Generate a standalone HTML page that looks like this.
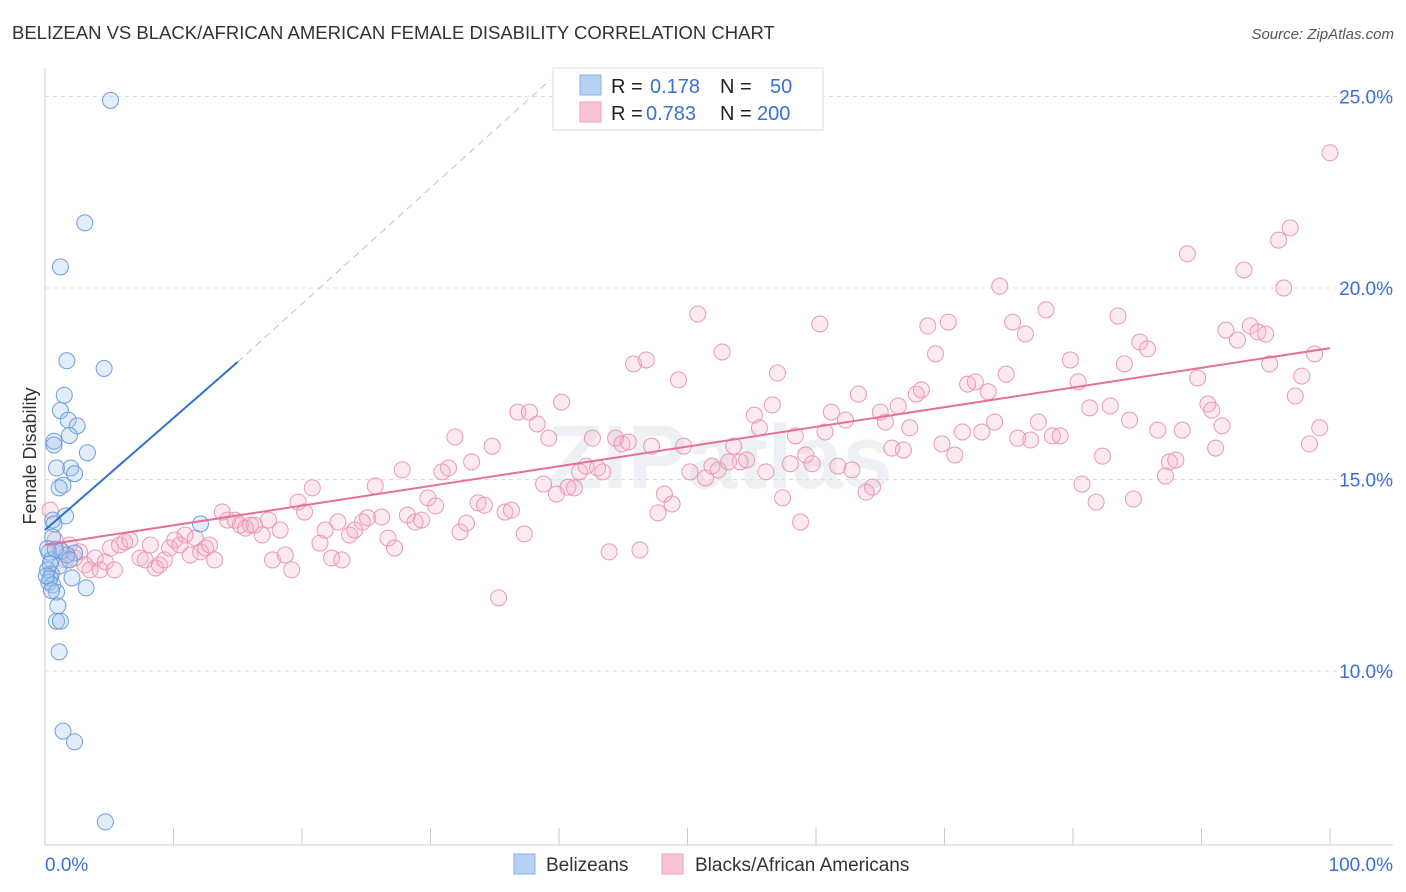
<!DOCTYPE html>
<html><head><meta charset="utf-8">
<style>
body{margin:0;background:#fff;font-family:"Liberation Sans",sans-serif;}
#wrap{position:relative;width:1406px;height:892px;overflow:hidden;}
svg{position:absolute;left:0;top:0;}
</style></head>
<body>
<div id="wrap">
<svg id="chart" width="1406" height="892">
<text x="12" y="39" font-size="18.5" fill="#333">BELIZEAN VS BLACK/AFRICAN AMERICAN FEMALE DISABILITY CORRELATION CHART</text>
<text x="1394" y="39" font-size="15" fill="#555" font-style="italic" text-anchor="end">Source: ZipAtlas.com</text>
<text x="36" y="456" font-size="18" fill="#333" text-anchor="middle" transform="rotate(-90 36 456)">Female Disability</text>
<text x="720" y="488" font-size="90" font-weight="bold" fill="#ccd6e4" opacity="0.35" text-anchor="middle">ZIPatlas</text>
<g id="grid"></g><g id="axes"></g><g id="pts"></g><g id="trend"></g>
<rect x="553" y="68" width="270" height="62" fill="#fff" stroke="#ddd"/>
<rect x="580" y="75" width="21" height="20" fill="#b5d0f5" stroke="#8ab0e8"/>
<rect x="580" y="102" width="21" height="20" fill="#f8c3d3" stroke="#eea0b8"/>
<text x="611" y="93" font-size="20" fill="#222">R = <tspan x="650" fill="#3a70d6">0.178</tspan><tspan x="720" fill="#222">N =</tspan><tspan x="770" fill="#3a70d6">50</tspan></text>
<text x="611" y="120" font-size="20" fill="#222">R = <tspan x="646" fill="#3a70d6">0.783</tspan><tspan x="720" fill="#222">N =</tspan><tspan x="757" fill="#3a70d6">200</tspan></text>
<rect x="514" y="854" width="21" height="20" fill="#b5d0f5" stroke="#8ab0e8"/>
<text x="546" y="871" font-size="19" fill="#333">Belizeans</text>
<rect x="662" y="854" width="21" height="20" fill="#f8c3d3" stroke="#eea0b8"/>
<text x="695" y="871" font-size="19" fill="#333">Blacks/African Americans</text>
</svg>
</div>
<script>
const yTicks=[10,15,20,25];
const yTickLabels=["10.0%","15.0%","20.0%","25.0%"];
const xTickLabels=["0.0%","100.0%"];
const blueX=[5.1,3.1,1.2,1.7,4.6,1.5,1.2,1.8,2.5,1.9,0.7,0.7,3.3,0.9,2.0,2.3,1.4,1.1,1.6,0.6,0.7,0.6,12.1,0.3,1.3,2.3,0.5,1.1,0.2,0.5,0.4,2.1,0.3,0.6,3.2,0.9,1.0,0.9,1.2,1.1,1.4,2.3,4.7,0.4,0.2,1.7,0.8,0.5,0.1,1.9];
const blueY=[24.9,21.7,20.55,18.1,17.9,17.2,16.8,16.55,16.4,16.15,16.0,15.9,15.7,15.3,15.3,15.15,14.85,14.78,14.05,13.94,13.84,13.5,13.84,13.1,13.13,13.08,12.9,12.74,12.64,12.53,12.43,12.43,12.32,12.25,12.17,12.06,11.7,11.3,11.3,10.5,8.43,8.15,6.06,12.8,13.2,13.03,13.18,12.1,12.48,12.9];
const pinkX=[0.4,0.8,1.2,1.6,1.9,2.3,2.7,3.1,3.5,3.9,4.3,4.7,5.1,5.4,5.8,6.2,6.6,7.4,7.8,8.2,8.6,8.9,9.3,9.7,10.1,10.5,10.9,11.3,11.7,12.1,12.5,12.8,13.2,13.8,14.2,14.8,15.2,15.6,16.0,16.3,16.9,17.4,17.7,18.3,18.7,19.2,19.7,20.2,20.8,21.4,21.8,22.3,22.8,23.1,23.7,24.1,24.7,25.1,25.7,26.2,26.7,27.2,27.8,28.2,28.8,29.3,29.8,30.4,30.9,31.4,31.9,32.3,32.8,33.2,33.7,34.2,34.8,35.3,35.8,36.3,36.8,37.3,37.7,38.3,38.8,39.2,39.8,40.2,40.7,41.2,41.6,42.1,42.6,43.0,43.4,43.9,44.4,44.9,45.4,45.8,46.3,46.8,47.2,47.7,48.2,48.8,49.3,49.7,50.2,50.8,51.4,51.9,52.4,52.7,53.2,53.6,54.1,54.6,55.2,55.6,56.1,56.6,57.0,57.4,58.0,58.4,58.8,59.2,59.7,60.3,60.7,61.2,61.7,62.3,62.8,63.3,63.9,64.4,65.0,65.4,65.9,66.4,66.8,67.3,67.8,68.2,68.7,69.3,69.8,70.3,70.8,71.4,71.8,72.4,72.9,73.4,73.9,74.3,74.8,75.3,75.7,76.3,76.7,77.3,77.9,78.4,79.0,79.8,80.4,80.7,81.3,81.8,82.3,82.9,83.5,84.0,84.4,84.7,85.2,85.8,86.6,87.2,87.5,88.0,88.5,88.9,89.7,90.5,90.8,91.1,91.6,91.9,92.8,93.3,93.8,94.4,95.0,95.3,96.0,96.4,96.9,97.3,97.8,98.4,98.8,99.2,100.0];
const pinkY=[14.2,13.42,13.16,12.9,13.29,12.95,13.11,12.77,12.64,12.95,12.64,12.85,13.21,12.64,13.29,13.37,13.42,12.95,12.9,13.29,12.69,12.77,12.9,13.21,13.42,13.29,13.55,13.03,13.47,13.11,13.21,13.29,12.9,14.15,13.94,13.94,13.81,13.73,13.81,13.81,13.55,13.94,12.9,13.68,13.03,12.64,14.41,14.15,14.78,13.34,13.68,12.95,13.89,12.9,13.55,13.68,13.89,14.0,14.83,14.02,13.47,13.21,15.25,14.07,13.89,13.94,14.52,14.31,15.2,15.3,16.11,13.63,13.86,15.46,14.39,14.33,15.87,11.91,14.15,14.2,16.76,13.58,16.76,16.45,14.88,16.08,14.62,17.02,14.8,14.78,15.2,15.35,16.08,15.3,15.2,13.11,16.08,15.93,15.98,18.02,13.16,18.12,15.87,14.13,14.62,14.36,17.6,15.87,15.2,19.32,15.04,15.35,15.25,18.33,15.46,15.87,15.46,15.51,16.68,16.35,15.2,16.95,17.78,14.52,15.41,16.14,13.89,15.64,15.41,19.06,16.24,16.76,15.35,16.55,15.25,17.23,14.67,14.8,16.76,16.5,15.82,16.92,15.77,16.35,17.23,17.34,19.01,18.28,15.93,19.11,15.64,16.24,17.49,17.55,16.24,17.29,16.5,20.05,17.75,19.11,16.08,18.8,16.03,16.5,19.43,16.14,16.14,18.12,17.55,14.88,16.87,14.41,15.61,16.92,19.27,18.02,16.55,14.49,18.59,18.41,16.29,15.09,15.46,15.51,16.29,20.89,17.65,16.97,16.81,15.82,16.4,18.9,18.64,20.47,19.01,18.85,18.8,18.02,21.25,20.0,21.57,17.18,17.7,15.93,18.28,16.35,23.53];
const blueTrend=[[0,13.68],[15,18.07]];
const blueTrendExt=[[15,18.07],[39.3,25.43]];
const pinkTrend=[[0,13.29],[100,18.43]];

const NS="http://www.w3.org/2000/svg";
function X(v){return 45+v*12.85;}
function Y(v){return 1054-v*38.3;}
function mk(tag,attrs,parent){const e=document.createElementNS(NS,tag);for(const k in attrs)e.setAttribute(k,attrs[k]);parent.appendChild(e);return e;}
const grid=document.getElementById('grid'),axes=document.getElementById('axes'),pts=document.getElementById('pts'),trend=document.getElementById('trend');
yTicks.forEach((t,i)=>{
  const l=mk('line',{x1:45,x2:1393,y1:Y(t),y2:Y(t),stroke:'#ddd','stroke-dasharray':'4,4'},grid);
  
  
  const tx=mk('text',{x:1393,y:Y(t)+7,'font-size':19,fill:'#3a70d6','text-anchor':'end'},axes);
  tx.textContent=yTickLabels[i];
  
  
});
let a=mk('line',{x1:45,x2:45,y1:68,y2:845,stroke:'#ccc'},axes);


a=mk('line',{x1:45,x2:1393,y1:845,y2:845,stroke:'#ccc'},axes);


for(let i=0;i<=10;i++){
  const t=mk('line',{x1:X(i*10),x2:X(i*10),y1:828,y2:845,stroke:'#ccc'},axes);
  
  
}
[[0,'start',45],[1,'end',1393]].forEach(([i,anc,x])=>{
  const tx=mk('text',{x:x,y:871,'font-size':19,fill:'#3a70d6','text-anchor':anc},axes);
  tx.textContent=xTickLabels[i];
  
  
});
pinkX.forEach((v,i)=>{
  const c=mk('circle',{cx:X(v),cy:Y(pinkY[i]),r:8,fill:'rgba(244,170,195,0.25)',stroke:'#eb98b3','stroke-width':1},pts);
  
  
});
blueX.forEach((v,i)=>{
  const c=mk('circle',{cx:X(v),cy:Y(blueY[i]),r:8,fill:'rgba(160,195,240,0.3)',stroke:'#6f9ddf','stroke-width':1},pts);
  
  
});
let l=mk('line',{x1:X(blueTrendExt[0][0]),y1:Y(blueTrendExt[0][1]),x2:X(blueTrendExt[1][0]),y2:Y(blueTrendExt[1][1]),stroke:'#a9c4ea','stroke-width':1,'stroke-dasharray':'7,5'},trend);


l=mk('line',{x1:X(blueTrend[0][0]),y1:Y(blueTrend[0][1]),x2:X(blueTrend[1][0]),y2:Y(blueTrend[1][1]),stroke:'#2f6fd6','stroke-width':2},trend);


l=mk('line',{x1:X(pinkTrend[0][0]),y1:Y(pinkTrend[0][1]),x2:X(pinkTrend[1][0]),y2:Y(pinkTrend[1][1]),stroke:'#e5709a','stroke-width':2},trend);


</script>
</body></html>
